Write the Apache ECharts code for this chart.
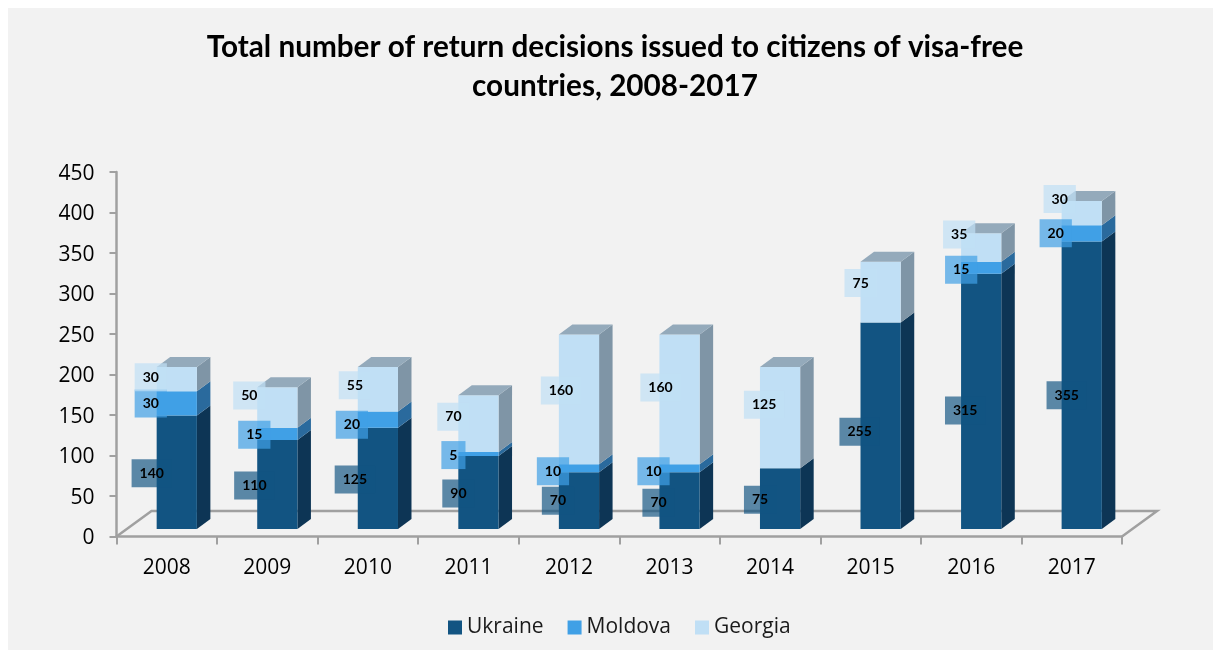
<!DOCTYPE html>
<html>
<head>
<meta charset="utf-8">
<style>
html,body{margin:0;padding:0;background:#fff;width:1221px;height:657px;overflow:hidden}
#panel{position:absolute;left:8px;top:8px;width:1205px;height:642px;background:#f2f2f2}
#chart{position:absolute;left:0;top:0;width:1221px;height:657px}
</style>
<script src="https://cdn.jsdelivr.net/npm/echarts@6/dist/echarts.min.js"></script>
</head>
<body>
<div id="panel"></div>
<div id="chart"></div>
<script>
const years = ['2008','2009','2010','2011','2012','2013','2014','2015','2016','2017'];
const ukraine = [140,110,125,90,70,70,75,255,315,355];
const moldova = [30,15,20,5,10,10,0,0,15,20];
const georgia = [30,50,55,70,160,160,125,75,35,30];

// Manual label nudges (px) relative to each segment's front centre, as in the source chart
const ukraineNudge = [[-25,1],[-23,1],[-23,1],[-20,1],[-21,0],[-21,2],[-20,1],[-21,6],[-16,9],[-15,10]];
const moldovaNudge = [[-26,0],[-23,1],[-26,5],[-25,1],[-26,3],[-26,3],[0,0],[0,0],[-20,2],[-26,0]];
const georgiaNudge = [[-26,-2],[-28,-12],[-23,-4],[-25,-7],[-18,-9],[-19,-12],[-16,-13],[-20,-9],[-22,-13],[-22,-14]];

const FLOOR = {dx:35, dy:-25.5};
const BAR = {shiftX:10, shiftY:-7.5, widthRatio:0.4, depthX:13.5, depthY:-10};

function rows(vals, below){
  return vals.map((v,i)=>[i, v, below.reduce((s,a)=>s+a[i],0)]);
}

function poly(pts, fill){
  return {type:'polygon', shape:{points:pts}, style:{fill:fill, stroke:null}, silent:true};
}

function barRender(cols, isTop){
  return function(params, api){
    const i=api.value(0), v=api.value(1), base=api.value(2);
    if(!v) {
      return {type:'group',children:[]};
    }
    const w=api.size([1,0])[0]*BAR.widthRatio;
    const p0=api.coord([i,base]), p1=api.coord([i,base+v]);
    const l=p0[0]+BAR.shiftX-w/2, r=l+w;
    const yb=p0[1]+BAR.shiftY, yt=p1[1]+BAR.shiftY;
    const dx=BAR.depthX, dy=BAR.depthY;
    const ch=[
      poly([[r,yb],[r+dx,yb+dy],[r+dx,yt+dy],[r,yt]],cols.side),
      poly([[l,yb],[r,yb],[r,yt],[l,yt]],cols.front)
    ];
    if(isTop) ch.push(poly([[l,yt],[r,yt],[r+dx,yt+dy],[l+dx,yt+dy]],cols.top));
    return {type:'group',children:ch};
  };
}

function labelRender(bg, nudge){
  return function(params, api){
    const i=api.value(0), v=api.value(1), base=api.value(2);
    if(!v) return {type:'group',children:[]};
    const p=api.coord([i,base+v/2]);
    const n=nudge[i];
    return {type:'text', silent:true,
      x:p[0]+BAR.shiftX+n[0], y:p[1]+BAR.shiftY+n[1],
      style:{text:String(v), align:'center', verticalAlign:'middle',
        font:'bold 14px Lato, "Open Sans", sans-serif', fill:'#000',
        backgroundColor:bg, padding:[7,8,7,8]}};
  };
}

function floorRender(params, api){
  const a=api.coord([0,0]);
  const cs=params.coordSys;
  const x0=cs.x, x1=cs.x+cs.width, y=a[1];
  return {type:'polyline', silent:true,
    shape:{points:[[x0,y],[x0+FLOOR.dx,y+FLOOR.dy],[x1+FLOOR.dx,y+FLOOR.dy],[x1,y]]},
    style:{fill:null, stroke:'#a0a0a0', lineWidth:2.5}};
}

const C = {
  u:{front:'#125482', side:'#0d3555', top:'#0d3f63'},
  m:{front:'#40a0e6', side:'#2a6a9d', top:'#2a6a9d'},
  g:{front:'#c0dff5', side:'#7f95a6', top:'#94aabb'}
};

function barSeries(name, vals, below, cols, isTop){
  return {name:name, type:'custom', renderItem:barRender(cols,isTop), data:rows(vals,below),
    encode:{x:0,y:1}, itemStyle:{color:cols.front}, z:3, clip:false};
}
function labelSeries(vals, below, bg, nudge){
  return {type:'custom', renderItem:labelRender(bg,nudge), data:rows(vals,below),
    encode:{x:0,y:1}, z:5, clip:false, silent:true, tooltip:{show:false}};
}

const chart = echarts.init(document.getElementById('chart'), null, {renderer:'canvas'});
chart.setOption({
  animation:false,
  backgroundColor:'transparent',
  title:{
    text:'Total number of return decisions issued to citizens of visa-free\ncountries, 2008-2017',
    left:610, top:23, textAlign:'center',
    textStyle:{fontFamily:'Lato, "Open Sans", sans-serif', fontWeight:'bold', fontSize:29.7, lineHeight:39, color:'#000'}
  },
  legend:{
    left:443, top:612, itemWidth:14, itemHeight:14, itemGap:24, icon:'rect',
    data:['Ukraine','Moldova','Georgia'],
    textStyle:{fontFamily:'"Open Sans", sans-serif', fontSize:21, color:'#1a1a1a'}
  },
  grid:{left:116.5, top:172, width:1005.5, height:364.5, containLabel:false},
  xAxis:{
    type:'category', data:years,
    axisLine:{lineStyle:{color:'#a0a0a0',width:2.5}},
    axisTick:{show:true, alignWithLabel:false, length:8, lineStyle:{color:'#a0a0a0',width:2}},
    axisLabel:{fontFamily:'"Open Sans", sans-serif', fontSize:21, color:'#000', margin:21},
    splitLine:{show:false}
  },
  yAxis:{
    type:'value', min:0, max:450, interval:50,
    axisLine:{show:true, lineStyle:{color:'#a0a0a0',width:2.5}},
    axisTick:{show:true, length:7, lineStyle:{color:'#a0a0a0',width:2}},
    axisLabel:{margin:22, formatter:'{a|{value}}',
      rich:{a:{fontFamily:'"Open Sans", sans-serif', fontSize:21, color:'#000', padding:[4,0,0,0]}}},
    splitLine:{show:false}
  },
  series:[
    {type:'custom', renderItem:floorRender, data:[[0,0]], encode:{x:0,y:1}, z:1, clip:false, silent:true},
    barSeries('Ukraine', ukraine, [], C.u, false),
    barSeries('Moldova', moldova, [ukraine], C.m, false),
    barSeries('Georgia', georgia, [ukraine,moldova], C.g, true),
    labelSeries(ukraine, [], 'rgba(18,84,130,0.68)', ukraineNudge),
    labelSeries(moldova, [ukraine], 'rgba(64,160,230,0.7)', moldovaNudge),
    labelSeries(georgia, [ukraine,moldova], 'rgba(192,223,245,0.7)', georgiaNudge)
  ]
});
</script>
</body>
</html>
